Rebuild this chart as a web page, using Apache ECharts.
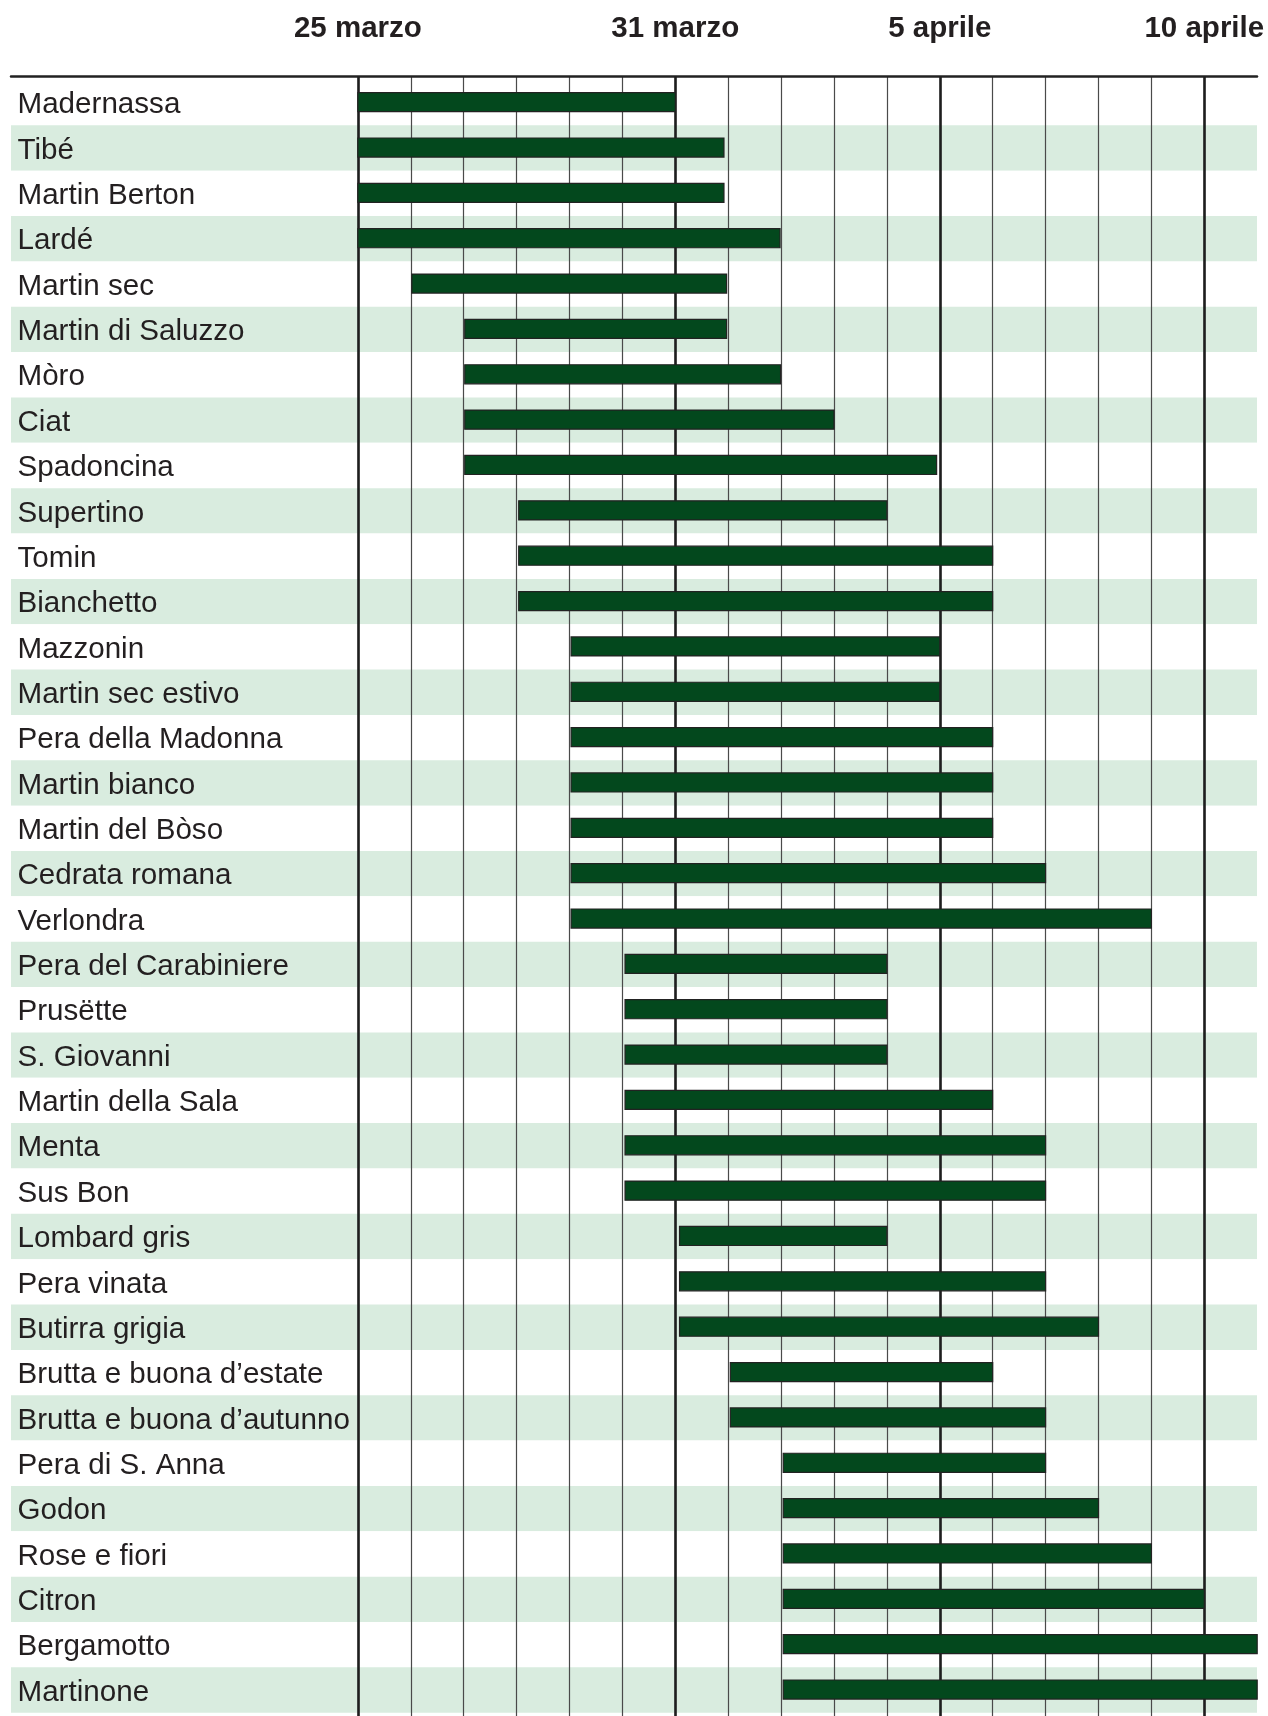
<!DOCTYPE html>
<html>
<head>
<meta charset="utf-8">
<title>Maturazione pere</title>
<script src="https://cdn.jsdelivr.net/npm/echarts@6/dist/echarts.min.js"></script>
<style>
    html, body {margin: 0; padding: 0; background: #fff;}
    #chart {width: 1268px; height: 1716px;}
</style>
</head>
<body>
<div id="chart"></div>
<script>
// varieta, giorno di inizio e di fine (0 = 25 marzo)
const varieties = [
    'Madernassa', 'Tibé', 'Martin Berton', 'Lardé', 'Martin sec', 'Martin di Saluzzo',
    'Mòro', 'Ciat', 'Spadoncina', 'Supertino', 'Tomin', 'Bianchetto',
    'Mazzonin', 'Martin sec estivo', 'Pera della Madonna', 'Martin bianco', 'Martin del Bòso', 'Cedrata romana',
    'Verlondra', 'Pera del Carabiniere', 'Prusëtte', 'S. Giovanni', 'Martin della Sala', 'Menta',
    'Sus Bon', 'Lombard gris', 'Pera vinata', 'Butirra grigia', 'Brutta e buona d’estate', 'Brutta e buona d’autunno',
    'Pera di S. Anna', 'Godon', 'Rose e fiori', 'Citron', 'Bergamotto', 'Martinone'
]
const startDays = [
    0, 0, 0, 0, 1.02, 2.02,
    2.02, 2.02, 2.02, 3.04, 3.04, 3.04,
    4.03, 4.03, 4.03, 4.03, 4.03, 4.03,
    4.03, 5.05, 5.05, 5.05, 5.05, 5.05,
    5.05, 6.08, 6.08, 6.08, 7.04, 7.04,
    8.04, 8.04, 8.04, 8.04, 8.04, 8.04
]
const endDays = [
    6, 6.92, 6.92, 7.98, 6.97, 6.97,
    7.99, 9, 10.94, 10, 12, 12,
    11, 11, 12, 12, 12, 13,
    15, 10, 10, 10, 12, 13,
    13, 10, 13, 14, 12, 13,
    13, 14, 15, 16, 17, 17
]
const tickDays = [0, 6, 11, 16]
const tickLabels = ['25 marzo', '31 marzo', '5 aprile', '10 aprile']

const FONT = '"Liberation Sans", Arial, Helvetica, sans-serif'
const W = 1268, H = 1716
const bandTop = 80, bandBottom = 3.3, lineTop = 76.5
const rowH = (H - bandTop - bandBottom) / varieties.length

let barData = varieties.map((name, i) => [startDays[i], endDays[i], i])

function renderBar(params, api) {
    let idx = api.value(2)
    let p0 = api.coord([api.value(0), idx])
    let p1 = api.coord([api.value(1), idx])
    let h = api.size([0, 1])[1] * 0.42
    return {
        type: 'rect',
        shape: {x: p0[0], y: p0[1] - h / 2 - 0.5, width: p1[0] - p0[0], height: h},
        style: {fill: '#03481d', stroke: '#222', lineWidth: 1.2}
    }
}

let chart = echarts.init(document.getElementById('chart'), null, {renderer: 'canvas', width: W, height: H})

let option = {
    animation: false,
    backgroundColor: '#fff',
    grid: [
        // bande e nomi
        {left: 11, right: 11, top: bandTop, bottom: bandBottom},
        // linee dei giorni e barre
        {left: 357.9, right: 10.8, top: lineTop, bottom: 0}
    ],
    xAxis: [
        {
            gridIndex: 0, type: 'value', min: 0, max: 1, position: 'top', offset: bandTop - lineTop,
            axisLine: {show: true, lineStyle: {color: '#222', width: 2.5}},
            axisTick: {show: false}, axisLabel: {show: false}, splitLine: {show: false}
        },
        {
            gridIndex: 1, type: 'value', min: 0, max: 17, interval: 1, position: 'top',
            axisLine: {show: false}, axisTick: {show: false},
            axisLabel: {
                show: true, interval: 0, margin: lineTop - 28.5, verticalAlign: 'middle',
                fontFamily: FONT, fontSize: 29.5, fontWeight: 'bold', color: '#231f20',
                formatter: v => {
                    let k = tickDays.indexOf(v)
                    return k >= 0 ? tickLabels[k] : ''
                }
            },
            splitLine: {show: true, showMaxLine: false, lineStyle: {color: '#4a4a4a', width: 1.2}}
        }
    ],
    yAxis: [
        {
            gridIndex: 0, type: 'category', inverse: true, data: varieties,
            axisLine: {show: false}, axisTick: {show: false},
            axisLabel: {
                inside: true, margin: 6.5,
                formatter: '{n|{value}}',
                rich: {
                    n: {fontFamily: FONT, fontSize: 29.6, color: '#231f20', padding: [5, 0, 0, 0]}
                }
            },
            splitLine: {show: false},
            splitArea: {show: true, areaStyle: {color: ['#ffffff', '#d9ecdf']}}
        },
        {
            gridIndex: 1, type: 'value', inverse: true, show: false,
            min: -0.5 - (bandTop - lineTop) / rowH,
            max: varieties.length - 0.5 + bandBottom / rowH,
            splitLine: {show: false}
        }
    ],
    series: [
        {
            type: 'custom',
            xAxisIndex: 1, yAxisIndex: 1,
            z: 10,
            clip: false,
            renderItem: renderBar,
            encode: {x: [0, 1], y: 2},
            data: barData,
            markLine: {
                z: 2, silent: true, symbol: 'none', animation: false,
                label: {show: false},
                lineStyle: {type: 'solid', color: '#1e1e1e', width: 2.6},
                data: tickDays.map(d => ({xAxis: d}))
            }
        }
    ]
}

chart.setOption(option)
</script>
</body>
</html>
